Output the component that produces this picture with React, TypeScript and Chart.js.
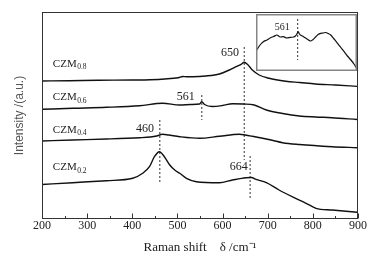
import React, { useEffect, useRef } from 'react';
import { Chart, registerables } from 'chart.js';
Chart.register(...registerables);

const SERIF = '"Liberation Serif", "Times New Roman", serif';
const NARROW = '"Liberation Sans Narrow", "Liberation Sans", Arial, sans-serif';

// ---- main series (Raman shift cm^-1, intensity a.u.) ----
const czm08X = [200, 260, 325, 399, 440, 472, 502, 512, 520, 534, 563, 593, 615, 630, 641, 648, 655, 666, 681, 703, 740, 771, 806, 850, 898];
const czm08Y = [138, 138.3, 138.7, 139, 139.3, 140, 141.3, 142.5, 142.3, 142.3, 143, 145, 149, 152.3, 154.7, 156.7, 154.7, 149, 144, 140.7, 137.8, 136.5, 135, 134, 132.6];

const czm06X = [200, 268, 343, 416, 467, 505, 530, 549, 554, 560, 577, 600, 622, 646, 670, 697, 733, 770, 806, 842, 898];
const czm06Y = [109.7, 110.7, 111.7, 113.3, 115.7, 114, 114.5, 115, 117.3, 114.5, 112.5, 113.5, 115.3, 115, 114, 109, 105.5, 103, 102, 101.3, 99.5];

const czm04X = [200, 268, 343, 416, 440, 454, 467, 480, 505, 549, 593, 637, 650, 666, 710, 733, 770, 843, 898];
const czm04Y = [78, 79, 80, 81.3, 82, 83, 84.7, 84, 82.3, 80.7, 82.7, 84.7, 84, 82.7, 78.7, 76.3, 74.5, 72.3, 71.3];

const czm02X = [200, 268, 343, 401, 423, 438, 449, 460, 471, 483, 494, 505, 520, 542, 593, 622, 652, 664, 674, 697, 725, 754, 785, 807, 843, 898];
const czm02Y = [34.5, 36.3, 38.3, 40.7, 45.7, 52.3, 62.3, 67.3, 62.3, 54, 49, 45.7, 40.7, 37.3, 36.3, 39, 41.3, 41.5, 39.7, 36.3, 29, 22.3, 15.7, 10.7, 9, 6.7];

// ---- peak marker lines: x, from-y, to-y ----
const markerX = [648, 554, 461, 661];
const markerTop = [172, 124, 99, 63];
const markerBottom = [59, 99, 36, 20];

// ---- peak labels ----
const peakLabels = ['650', '561', '460', '664'];
const peakLabelX = [616.5, 518.5, 428, 635.7];
const peakLabelY = [163, 119, 86.7, 49.5];

// ---- sample labels ----
const sampleSubs = ['0.8', '0.6', '0.4', '0.2'];
const sampleLabelX = 224;
const sampleLabelY = [152.3, 119, 86.3, 49];

// ---- inset ----
const insetX = [399, 412, 425, 440, 452, 466, 479, 492, 504, 518, 532, 545, 552, 558, 563, 568, 572, 584, 598, 612, 622, 632, 642, 652, 662, 672, 682, 692, 705, 719, 732, 745, 758, 772, 784, 794];
const insetY = [21, 26, 29.3, 31, 33, 34.5, 36, 34, 34.3, 33, 33.7, 34, 35, 37, 39.3, 37, 36, 34.3, 32, 30, 31.5, 34, 36.5, 37.7, 38, 38.5, 37.5, 36, 32, 27.7, 23.5, 19.3, 15, 11, 7, 3];
const insetMarkerX = 561;
const insetMarkerY = [52, 11];
const insetLabel = '561';
const insetLabelX = 500;
const insetLabelY = 41;

const pts = (xs: number[], ys: number[]) => xs.map((x, i) => ({ x, y: ys[i] }));

const lineDs = (data: { x: number; y: number }[]) => ({
  data,
  borderColor: '#111',
  borderWidth: 1.4,
  pointRadius: 0,
  cubicInterpolationMode: 'monotone',
  fill: false,
});

const dashDs = (x: number, y0: number, y1: number) => ({
  data: [{ x, y: y0 }, { x, y: y1 }],
  borderColor: '#333',
  borderWidth: 1,
  borderDash: [2, 2],
  pointRadius: 0,
  fill: false,
});

const mainPlugin = {
  id: 'mainAnnot',
  afterDatasetsDraw(chart: any) {
    const { ctx, chartArea, scales } = chart;
    const x = scales.x;
    const y = scales.y;
    ctx.save();
    // frame
    ctx.strokeStyle = '#333';
    ctx.lineWidth = 1;
    const l = Math.round(chartArea.left) + 0.5;
    const t = Math.round(chartArea.top) + 0.5;
    const r = Math.round(chartArea.right) - 0.5;
    const b = Math.round(chartArea.bottom) - 0.5;
    ctx.strokeRect(l, t, r - l, b - t);
    // inward ticks
    ctx.beginPath();
    x.ticks.forEach((tk: any) => {
      const px = Math.round(x.getPixelForValue(tk.value)) + 0.5;
      const len = tk.value % 100 === 0 ? 5 : 2.5;
      ctx.moveTo(px, b);
      ctx.lineTo(px, b - len);
    });
    ctx.stroke();
    // peak labels
    ctx.fillStyle = '#222';
    ctx.font = `12px ${SERIF}`;
    ctx.textAlign = 'center';
    ctx.textBaseline = 'alphabetic';
    peakLabels.forEach((s, i) => {
      ctx.fillText(s, x.getPixelForValue(peakLabelX[i]), y.getPixelForValue(peakLabelY[i]));
    });
    // sample labels
    ctx.textAlign = 'left';
    sampleSubs.forEach((sub, i) => {
      const px = x.getPixelForValue(sampleLabelX);
      const py = y.getPixelForValue(sampleLabelY[i]);
      ctx.font = `11px ${SERIF}`;
      ctx.fillText('CZM', px, py);
      const w = ctx.measureText('CZM').width;
      ctx.font = `7.5px ${SERIF}`;
      ctx.fillText(sub, px + w + 0.5, py + 2.7);
    });
    ctx.restore();
  },
};

const insetPlugin = {
  id: 'insetAnnot',
  afterDatasetsDraw(chart: any) {
    const { ctx, scales, width, height } = chart;
    ctx.save();
    ctx.strokeStyle = '#858585';
    ctx.lineWidth = 1.5;
    ctx.strokeRect(0.75, 0.75, width - 1.5, height - 1.5);
    ctx.fillStyle = '#222';
    ctx.font = `10px ${SERIF}`;
    ctx.textAlign = 'center';
    ctx.textBaseline = 'alphabetic';
    ctx.fillText(insetLabel, scales.x.getPixelForValue(insetLabelX), scales.y.getPixelForValue(insetLabelY));
    ctx.restore();
  },
};

export default function App() {
  const mainRef = useRef<HTMLCanvasElement>(null);
  const insetRef = useRef<HTMLCanvasElement>(null);

  useEffect(() => {
    document.body.style.margin = '0';
    const main = new Chart(mainRef.current as HTMLCanvasElement, {
      type: 'line',
      data: {
        datasets: [
          lineDs(pts(czm08X, czm08Y)),
          lineDs(pts(czm06X, czm06Y)),
          lineDs(pts(czm04X, czm04Y)),
          lineDs(pts(czm02X, czm02Y)),
          ...markerX.map((mx, i) => dashDs(mx, markerTop[i], markerBottom[i])),
        ] as any,
      },
      options: {
        responsive: false,
        animation: false,
        layout: { padding: { left: 0, right: 19, top: 12, bottom: 0 } },
        plugins: { legend: { display: false }, tooltip: { enabled: false } },
        scales: {
          x: {
            type: 'linear',
            min: 200,
            max: 900,
            grid: { display: false, drawTicks: false },
            border: { display: false },
            ticks: {
              stepSize: 50,
              autoSkip: false,
              maxRotation: 0,
              padding: 0,
              color: '#222',
              font: { family: SERIF, size: 12 },
              callback: (v: any) => (Number(v) % 100 === 0 ? String(v) : ''),
            },
            title: {
              display: true,
              text: 'Raman shift    δ /cm⁻¹',
              color: '#222',
              font: { family: SERIF, size: 13 },
              padding: { top: 0, bottom: 3 },
            },
            afterFit: (s: any) => {
              s.height = 39;
            },
          },
          y: {
            type: 'linear',
            min: 0,
            max: 207,
            grid: { display: false, drawTicks: false },
            border: { display: false },
            ticks: { display: false },
            title: {
              display: true,
              text: 'Intensity /(a.u.)',
              color: '#555',
              font: { family: NARROW, size: 12 },
              padding: { top: 12, bottom: 0 },
            },
            afterFit: (s: any) => {
              s.width = 42;
            },
          },
        },
      },
      plugins: [mainPlugin],
    } as any);

    const inset = new Chart(insetRef.current as HTMLCanvasElement, {
      type: 'line',
      data: {
        datasets: [
          { ...lineDs(pts(insetX, insetY)), borderWidth: 1.2 },
          dashDs(insetMarkerX, insetMarkerY[0], insetMarkerY[1]),
        ] as any,
      },
      options: {
        responsive: false,
        animation: false,
        layout: { padding: 0 },
        plugins: { legend: { display: false }, tooltip: { enabled: false } },
        scales: {
          x: { type: 'linear', min: 396, max: 796, display: false },
          y: { type: 'linear', min: 0, max: 57, display: false },
        },
      },
      plugins: [insetPlugin],
    } as any);

    return () => {
      main.destroy();
      inset.destroy();
    };
  }, []);

  return (
    <div style={{ position: 'relative', width: 377, height: 258, background: '#fff' }}>
      <canvas
        ref={mainRef}
        width={377}
        height={258}
        style={{ position: 'absolute', left: 0, top: 0, width: 377, height: 258 }}
      />
      <canvas
        ref={insetRef}
        width={101}
        height={57}
        style={{ position: 'absolute', left: 256, top: 14, width: 101, height: 57 }}
      />
    </div>
  );
}
